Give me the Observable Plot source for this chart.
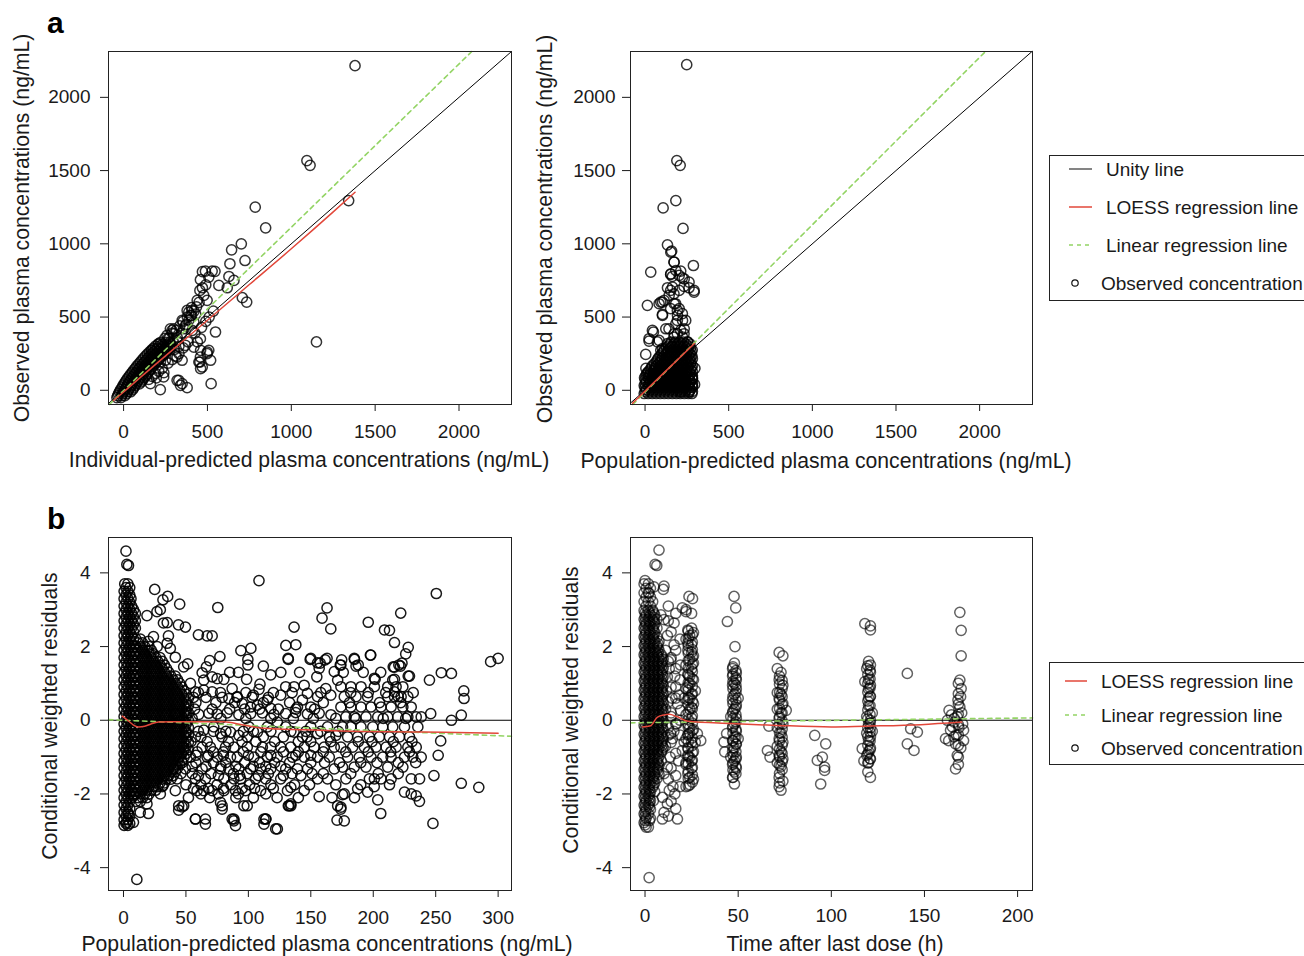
<!DOCTYPE html>
<html><head><meta charset="utf-8">
<script src="https://cdn.jsdelivr.net/npm/d3@7"></script>
<script src="https://cdn.jsdelivr.net/npm/@observablehq/plot@0.6"></script>
<style>
html,body{margin:0;padding:0;background:#fff;overflow:hidden}
#root{position:relative;width:1304px;height:956px;overflow:hidden;background:#fff;font-family:"Liberation Sans",Arial,Helvetica,sans-serif}
.panel{position:absolute}
#overlay{position:absolute;left:0;top:0}
</style></head><body><div id="root"></div>
<script>
// ---------- tick labels ----------
const ticksConc = [0, 500, 1000, 1500, 2000];
const ticksCwres = [-4, -2, 0, 2, 4];
const ticksPredB = [0, 50, 100, 150, 200, 250, 300];
const ticksTime = [0, 50, 100, 150, 200];

// ---------- panel a-left : IPRED (x) vs observed (y), flat x,y pairs ----------
const aLeftObs = [
1380,2216, 1093,1568, 1112,1536, 1342,1295, 785,1250, 847,1109, 1150,330, 702,1000, 644,959, 724,886,
634,864, 628,777, 658,750, 708,632, 734,602, 488,813, 528,814, 508,773, 568,716, 618,700, 455,682,
478,648, 439,614, 498,614, 458,755, 548,398, 522,45, 508,273, 498,250, 455,193, 469,159, 339,34, 379,18,
319,68, 219,5, 409,409, 458,352, 419,295, 458,227, 379,545, 399,511, 349,477, 419,466, 299,386, 319,341,
369,307, 319,227, 349,205, 249,205, 239,91, 470,810, 545,812, 389,534, 408,545, 279,420, 299,420, 239,250,
209,318, 169,273, 440,330, 459,273, 499,261, 519,205, 449,193, 459,148, 239,239, 219,193, 329,68, 349,45,
289,409, 259,375, 369,443,
295,335, 305,280, 320,360, 330,300, 345,390, 360,420, 375,450, 390,480, 405,510, 420,540, 435,570, 450,600,
150,75, 170,95, 190,115, 210,130, 230,150, 160,45, 195,85, 240,120, 265,185, 290,210, 310,235, 330,250,
355,290, 385,330, 425,390, 465,430, 490,470, 510,500, 535,540, 470,700, 490,720, 430,520, 405,565, 380,500,
355,470, 335,440, 315,410, 290,390, 265,355
];
// dense band along the diagonal: [y, x, x, ...]
const aLeftRows = [
[-50,-40,-16],[-23,-30,-6,18],[4,-18,6,30,54],[31,-4,20,44,68],[58,10,34,58,82,106],[85,26,50,74,98,122],
[112,44,68,92,116,140],[139,62,86,110,134,158],[166,80,104,128,152,176],[193,100,124,148,172,196],
[220,120,144,168,192,216],[247,142,166,190,214,238],[274,166,190,214,238,262],[301,190,214,238,262,286],
[328,222,250,276],[355,246,272],
[-36,-35,-11,8],[-10,-24,0,24,42],[17,-10,14,38,60],[44,3,27,51,75,94],[71,18,42,66,90,114],
[98,35,59,83,107,131],[125,53,77,101,125,149],[152,71,95,119,143,167],[179,90,114,138,162,186],
[206,110,134,158,182,206],[233,131,155,179,203,227],[260,154,178,202,226,250],[287,178,202,226,250,274],
[314,206,232,258,282]
];
const aLeftLoess = [-60,-70, 0,-12, 100,88, 250,235, 500,478, 750,722, 1000,966, 1250,1218, 1380,1352];
const aLeftLinear = {slope: 1.115, intercept: -2};

// ---------- panel a-right : PRED (x) vs observed (y) ----------
const aRightObs = [
249,2223, 190,1568, 210,1536, 184,1295, 108,1245, 227,1105, 134,993, 159,950, 173,875, 34,807, 289,852,
153,791, 163,777, 213,814, 223,768, 233,709, 263,700, 293,670, 134,700, 153,682, 173,659, 94,602, 114,614,
14,580, 104,518, 153,557, 183,591, 193,545, 193,477, 213,409, 50,398, 24,336, 4,245, 143,420, 173,364,
134,318, 163,295, 233,386, 243,477, 223,523, 193,386, 74,330, 94,273, 283,216, 283,80, 263,-11, 213,-11,
154,943, 174,875, 184,818, 154,795, 204,784, 234,761, 263,738, 293,682, 164,705, 204,682, 144,648, 104,602,
84,591, 174,591, 204,557, 194,511, 224,477, 234,420, 184,454, 174,386, 224,364, 254,330, 104,511, 44,409,
24,352, 84,341, 104,284, 124,420, 296,40, 298,150, 5,150, 15,120
];
const aRightRows = [
[-22,-5,19,43,67,91,115,139,163,187,211,235,259,280],
[5,7,31,55,79,103,127,151,175,199,223,247,271],
[32,-5,19,43,67,91,115,139,163,187,211,235,259,283],
[59,7,31,55,79,103,127,151,175,199,223,247,271],
[86,-3,19,43,67,91,115,139,163,187,211,235,259,283],
[113,10,31,55,79,103,127,151,175,199,223,247,271],
[140,30,55,79,103,127,151,175,199,223,247,271],
[167,43,67,91,115,139,163,187,211,235,259,283],
[194,67,91,115,139,163,187,211,235,259,275],
[221,80,103,127,151,175,199,223,247,271],
[248,100,127,151,175,199,223,247,268],
[275,115,139,163,187,211,235,259,282],
[302,140,163,187,211,235,260],
[329,155,180,205,230,255],
[-8,1,25,49,73,97,121,145,169,193,217,241,265,283],
[19,1,25,49,73,97,121,145,169,193,217,241,265,283],
[46,1,25,49,73,97,121,145,169,193,217,241,265,283],
[73,1,25,49,73,97,121,145,169,193,217,241,265,283],
[100,5,25,49,73,97,121,145,169,193,217,241,265,283],
[127,20,49,73,97,121,145,169,193,217,241,265,283],
[154,37,61,85,109,133,157,181,205,229,253,277],
[181,55,79,103,127,151,175,199,223,247,271],
[208,73,97,121,145,169,193,217,241,265],
[235,90,115,139,163,187,211,235,259,280],
[262,108,133,157,181,205,229,253,276],
[289,128,151,175,199,223,247,271],
[316,150,172,196,220,244,268]
];
const aRightLoess = [-75,-88, 100,105, 295,320];
const aRightLinear = {slope: 1.143, intercept: -13};

// ---------- panel b-left : PRED (x) vs CWRES (y) ----------
const bLeftRows = [
// column right at zero
[3.7,1,3.5],[3.6,2,5],[3.5,0.5,3.5],[3.4,2,5],[3.3,0.5,3.5,6],[3.2,2,5],[3.1,0.5,3.5,6.5],[3.0,2,5,8],
[2.9,0.5,3.5,6.5,9.5],[2.8,2,5,8],[2.7,0.5,3.5,6.5,9.5],[2.6,2,5,8],[2.5,0.5,3.5,6.5,9.5],[2.4,2,5,8],
[2.3,0.5,3.5,6.5],[2.2,2,5,8],[2.1,0.5,3.5,6.5],[2.0,2,5,8],[1.9,0.5,3.5,6.5],[1.8,2,5,8],[1.7,0.5,3.5,6.5],
[1.6,2,5,8],[1.5,0.5,3.5,6.5],[1.4,2,5,8],[1.3,0.5,3.5,6.5],[1.2,2,5,8],[1.1,0.5,3.5,6.5],[1.0,2,5,8],
[0.9,0.5,3.5,6.5],[0.8,2,5,8],[0.7,0.5,3.5,6.5],[0.6,2,5,8],[0.5,0.5,3.5,6.5],[0.4,2,5,8],[0.3,0.5,3.5,6.5],
[0.2,2,5,8],[0.1,0.5,3.5,6.5],[0.0,2,5,8],[-0.1,0.5,3.5,6.5],[-0.2,2,5,8],[-0.3,0.5,3.5,6.5],[-0.4,2,5,8],
[-0.5,0.5,3.5,6.5],[-0.6,2,5,8],[-0.7,0.5,3.5,6.5],[-0.8,2,5,8],[-0.9,0.5,3.5,6.5],[-1.0,2,5,8],
[-1.1,0.5,3.5,6.5],[-1.2,2,5,8],[-1.3,0.5,3.5,6.5],[-1.4,2,5,8],[-1.5,0.5,3.5,6.5],[-1.6,2,5,8],
[-1.7,0.5,3.5,6.5],[-1.8,2,5,8],[-1.9,0.5,3.5,6.5],[-2.0,2,5,8],[-2.1,0.5,3.5,6.5],[-2.2,2,5],[-2.3,0.5,3.5],
[-2.4,2,5],[-2.5,0.5,3.5],[-2.6,2,5],[-2.7,0.5,3.5],[-2.8,2,5],[-2.85,0.5,3.5],
// dense block 10-54
[2.2,10,13.5],[2.1,11.75,15.25],[2.0,10,13.5,17,20.5],[1.9,11.75,15.25,18.75,22.25],[1.8,10,13.5,17,20.5,24],
[1.7,11.75,15.25,18.75,22.25,25.75,29.25],[1.6,10,13.5,17,20.5,24,27.5,31],
[1.5,11.75,15.25,18.75,22.25,25.75,29.25,32.75],[1.4,10,13.5,17,20.5,24,27.5,31,34.5],
[1.3,11.75,15.25,18.75,22.25,25.75,29.25,32.75,36.25],[1.2,10,13.5,17,20.5,24,27.5,31,34.5,38,41.5],
[1.1,11.75,15.25,18.75,22.25,25.75,29.25,32.75,36.25,39.75,43.25],[1.0,10,13.5,17,20.5,24,27.5,31,34.5,38,41.5,45],
[0.9,11.75,15.25,18.75,22.25,25.75,29.25,32.75,36.25,39.75,43.25,46.75],
[0.8,10,13.5,17,20.5,24,27.5,31,34.5,38,41.5,45,48.5],
[0.7,11.75,15.25,18.75,22.25,25.75,29.25,32.75,36.25,39.75,43.25,46.75,50.25],
[0.6,10,13.5,17,20.5,24,27.5,31,34.5,38,41.5,45,48.5,52],
[0.5,11.75,15.25,18.75,22.25,25.75,29.25,32.75,36.25,39.75,43.25,46.75,50.25],
[0.4,10,13.5,17,20.5,24,27.5,31,34.5,38,41.5,45,48.5,52],
[0.3,11.75,15.25,18.75,22.25,25.75,29.25,32.75,36.25,39.75,43.25,46.75,50.25],
[0.2,10,13.5,17,20.5,24,27.5,31,34.5,38,41.5,45,48.5,52],
[0.1,11.75,15.25,18.75,22.25,25.75,29.25,32.75,36.25,39.75,43.25,46.75,50.25],
[0.0,10,13.5,17,20.5,24,27.5,31,34.5,38,41.5,45,48.5,52],
[-0.1,11.75,15.25,18.75,22.25,25.75,29.25,32.75,36.25,39.75,43.25,46.75,50.25],
[-0.2,10,13.5,17,20.5,24,27.5,31,34.5,38,41.5,45,48.5,52],
[-0.3,11.75,15.25,18.75,22.25,25.75,29.25,32.75,36.25,39.75,43.25,46.75,50.25],
[-0.4,10,13.5,17,20.5,24,27.5,31,34.5,38,41.5,45,48.5,52],
[-0.5,11.75,15.25,18.75,22.25,25.75,29.25,32.75,36.25,39.75,43.25,46.75,50.25],
[-0.6,10,13.5,17,20.5,24,27.5,31,34.5,38,41.5,45,48.5,52],
[-0.7,11.75,15.25,18.75,22.25,25.75,29.25,32.75,36.25,39.75,43.25,46.75,50.25],
[-0.8,10,13.5,17,20.5,24,27.5,31,34.5,38,41.5,45,48.5,52],
[-0.9,11.75,15.25,18.75,22.25,25.75,29.25,32.75,36.25,39.75,43.25,46.75,50.25],
[-1.0,10,13.5,17,20.5,24,27.5,31,34.5,38,41.5,45,48.5],
[-1.1,11.75,15.25,18.75,22.25,25.75,29.25,32.75,36.25,39.75,43.25,46.75],
[-1.2,10,13.5,17,20.5,24,27.5,31,34.5,38,41.5,45],
[-1.3,11.75,15.25,18.75,22.25,25.75,29.25,32.75,36.25,39.75,43.25],
[-1.4,10,13.5,17,20.5,24,27.5,31,34.5,38,41.5],
[-1.5,11.75,15.25,18.75,22.25,25.75,29.25,32.75,36.25,39.75],
[-1.6,10,13.5,17,20.5,24,27.5,31,34.5,38],
[-1.7,11.75,15.25,18.75,22.25,25.75,29.25,32.75],
[-1.8,10,13.5,17,20.5,24,27.5,31],[-1.9,11.75,15.25,18.75,22.25,25.75],[-2.0,10,13.5,17,20.5],
[-2.1,11.75,15.25,18.75],[-2.2,10,13.5],
// middle cloud
[-0.73,40.2,48.2,63,69.6,81.7,88.4,99.1,111.2,117.9,125.9,133.9,144.7,152.7,160.7,168.8],
[-1.0,44.2,53.6,67,75,85.7,91.1,104.5,115.2,123.2,135.3,144.7,155.4,164.8],
[-1.32,40.2,49.6,63,77.7,84.4,92.4,101.8,109.8,117.9,129.9,139.3,147.3,168.8],
[-1.59,42.9,57.6,65.6,80.4,88.4,93.8,105.8,113.9,125.9,155.4,163.4],
[-1.91,41.5,58.9,64.3,71,80.4,89.7,97.8,109.8,131.3,144.7],
[-2.32,44.2,48.2,79,96.4,99.1,132.6,134,171.5],
[-2.68,57.6,65.6,87,88.4,112.5,113.9],
[0.48,58,74,89,112,133,160,181,205,222],
[0.05,55,78,98,118,136,152,170,186,208,226],
[-0.58,54,67,84,95,106,121,140,150,166,188,199,216,231],
[-0.86,59,72,80,96,110,128,140,160,178,196,214,229],
[-1.15,47,58,72,82,97,109,121,133,150,161,173,190,203,220,234],
[-1.45,46,55,70,88,99,116,135,151,160,182,204,220],
[-1.75,50,62,75,86,101,118,137,149,170,190,213],
[-2.1,52,69,90,104,123,140,167,185],
[1.3,85,92,126,141,176,192,206],
[0.75,60,98,120,135,158,182,196,210,232],
[0.62,56,66,79,91,103,116],
[0.3,57,71,85,97,109,124,138,153],
[-0.3,60,72,82,96,104,118,134,146,158,172],
[-0.45,62,79,99,112,128,147,165],
[-1.5,60,76,93,108,128,142],
[-1.25,55,66,78,90,104,114,126],
[-0.95,58,68,80,100,118,138,150],
[-1.85,56,68,80,95,105,120],
[-2.0,62,76,92,114],
[0.91,174.1,182.1,190.2,200.9,211.6,218.3,223.7],
[0.64,176.8,186.2,195.5,211.6,217,222.3,227.7],
[0.36,174.1,182.1,190.2,198.2,206.2,214.3,223.7,230.4],
[0.09,178.1,184.8,194.2,203.6,211.6,219.6,227.7,234.4,238.4],
[-0.18,175.4,182.1,190.2,199.6,207.6,215.6,225,235.7],
[-0.45,179.5,187.5,196.9,204.9,213,221,229],
[-0.73,174.1,183.5,192.9,202.2,210.3,218.3,227.7,234.4],
[-1.0,179.5,188.8,198.2,207.6,214.3,225,231.7,238.4],
[-1.27,175.4,184.8,194.2,211.6,223.7],
[-1.59,178.1,196.9,200.9,206.2,214.3,230.4,237.1]
];
const bLeftObs = [
2,4.59, 2.7,4.23, 4,4.2, 108.5,3.79, 25,3.55, 250.5,3.44, 35.4,3.36, 31.6,3.27, 45,3.15, 75.5,3.06, 163,3.05,
159,2.77, 222,2.91, 166,2.48, 136.6,2.53, 196,2.66, 29.5,3.0, 26.8,2.95, 18.8,2.84, 32,2.64, 35,2.65, 44,2.59,
49.6,2.53, 60,2.32, 67,2.29, 71,2.29, 209,2.45, 213,2.44, 217,2.11, 228,1.98, 226,1.8, 130,2.03, 138,2.05,
36,2.29, 35,2.09, 24,2.27, 27,2.0, 20,2.14, 94,1.89, 102,1.95, 99.6,1.65, 99.6,1.5, 132,1.65, 149.5,1.65,
161.5,1.64, 157.5,1.55, 173.6,1.5, 174.7,1.64, 185,1.65, 188,1.5, 198,1.77, 216,1.45, 220.5,1.5, 223,1.55,
294,1.59, 300,1.68, 254.5,1.29, 262.6,1.27, 245,1.09, 228,1.2, 201.5,1.11, 215.6,1.09, 217,0.77, 220,0.64,
272.5,0.8, 272.7,0.59, 246,0.18, 270.5,0.14, 262.6,0, 254,-0.56, 252,-0.95, 248.6,-1.5, 270.5,-1.71,
284.5,-1.82, 247.8,-2.8, 206,-2.53, 203.6,-2.16, 195.5,-1.95, 200.8,-1.8, 171,-2.71, 174,-2.41, 175.4,-2.02,
156.7,-2.07, 134,-2.27, 132,-2.32, 134,-1.82, 121.9,-2.95, 112.5,-2.82, 114,-2.68, 89.7,-2.86, 88.4,-2.73,
79,-2.41, 77.7,-2.23, 65.6,-2.82, 57.6,-2.68, 46.9,-2.35, 44.2,-2.44, 10.7,-4.32, 2.7,-2.77, 8,-2.77, 4,-2.55,
13.4,-2.5, 20,-2.53, 18.8,-2.27, 29.5,-2.0, 31.6,-1.77, 8,-2.05, 6.7,-1.91,
131.8,1.68, 150,1.68, 155.4,1.56, 163,1.68, 156.7,1.41, 154.8,1.18, 77.2,1.73, 69,1.62, 66.4,1.45, 51.4,1.53,
48.2,1.45, 41.5,1.71, 37.5,1.95, 112,1.47, 117.9,1.23, 98.6,1.11, 109.3,0.98, 108.5,0.84, 104,0.68, 63,1.29,
64.3,1.09, 71,1.18, 75,1.13, 80.4,1.11, 87,0.86, 53.6,1.0, 57.6,0.77, 64.3,0.82, 71,0.77, 77.7,0.75, 84.4,0.59,
91.1,0.64, 95.1,0.45, 101.8,0.36, 107.2,0.41, 115.2,0.55, 117.9,0.32, 125.9,0.68, 129.9,0.91, 136.6,0.91,
144.7,0.95, 147.3,0.73, 143.3,0.55, 139.3,0.36, 150,0.36, 155.4,0.64, 162,0.86, 166,0.68, 171.5,1.09, 168.8,1.32,
41.5,0.18, 50.9,0.2, 60.3,0.16, 68.3,0.19, 75,0.17, 83,0.2, 92.4,0.15, 101.8,0.18, 111.2,0.2, 120.5,0.16,
129.9,0.18, 137.9,0.21, 147.3,0.17, 156.7,0.19, 166.1,0.15,
42.9,-0.18, 49.6,-0.32, 57.6,-0.45, 64.3,-0.27, 72.3,-0.18, 77.7,-0.36, 85.7,-0.32, 92.4,-0.41, 100.5,-0.18,
107.2,-0.32, 115.2,-0.18, 123.2,-0.05, 129.9,-0.18, 136.6,-0.32, 143.3,-0.45, 150,-0.18, 155.4,-0.36,
163.4,-0.18, 170.1,-0.41, 123.2,-2.95,
197.7,1.77, 184.8,1.68, 186.2,1.47, 174.1,1.5, 217,1.44, 221.8,1.47, 229,1.2, 217,1.11, 200.9,1.14,
237,-2.2, 234.4,-2.05, 230.4,-2.0, 225,-1.95, 187.5,-1.86, 176.8,-2.0, 174.1,-2.36, 176.8,-2.73
];
const bLeftLoess = [-1,0.11, 4,-0.02, 8,-0.13, 12,-0.18, 17,-0.16, 22,-0.1, 28,-0.05, 40,-0.04, 80,-0.04,
  96,-0.13, 112,-0.22, 145,-0.26, 174,-0.29, 240,-0.32, 300,-0.35];
const bLeftLinear = {slope: -0.0014, intercept: 0.0};

// ---------- panel b-right : time after last dose (x) vs CWRES (y) ----------
const bRightRows = [
[3.7,-0.5,1.8],[3.58,0.6,2.9],[3.46,-0.5,1.8],[3.34,0.6,2.9],[3.22,-0.5,1.8,4.1],[3.1,0.6,2.9],
[2.98,-0.5,1.8,4.1],[2.86,0.6,2.9,5.2],[2.74,-0.5,1.8,4.1,6.4],[2.62,0.6,2.9,5.2],[2.5,-0.5,1.8,4.1,6.4],
[2.38,0.6,2.9,5.2],[2.26,-0.5,1.8,4.1,6.4],[2.14,0.6,2.9,5.2,7.5],[2.02,-0.5,1.8,4.1,6.4],[1.9,0.6,2.9,5.2,7.5],
[1.78,-0.5,1.8,4.1,6.4,8.7],[1.66,0.6,2.9,5.2,7.5,9.8],[1.54,-0.5,1.8,4.1,6.4,8.7],[1.42,0.6,2.9,5.2,7.5,9.8],
[1.3,-0.5,1.8,4.1,6.4,8.7],[1.18,0.6,2.9,5.2,7.5,9.8],[1.06,-0.5,1.8,4.1,6.4,8.7],[0.94,0.6,2.9,5.2,7.5,9.8],
[0.82,-0.5,1.8,4.1,6.4,8.7],[0.7,0.6,2.9,5.2,7.5,9.8],[0.58,-0.5,1.8,4.1,6.4,8.7],[0.46,0.6,2.9,5.2,7.5,9.8],
[0.34,-0.5,1.8,4.1,6.4,8.7],[0.22,0.6,2.9,5.2,7.5,9.8],[0.1,-0.5,1.8,4.1,6.4,8.7],[-0.02,0.6,2.9,5.2,7.5,9.8],
[-0.14,-0.5,1.8,4.1,6.4,8.7],[-0.26,0.6,2.9,5.2,7.5,9.8],[-0.38,-0.5,1.8,4.1,6.4,8.7],[-0.5,0.6,2.9,5.2,7.5,9.8],
[-0.62,-0.5,1.8,4.1,6.4,8.7],[-0.74,0.6,2.9,5.2,7.5,9.8],[-0.86,-0.5,1.8,4.1,6.4,8.7],[-0.98,0.6,2.9,5.2,7.5],
[-1.1,-0.5,1.8,4.1,6.4,8.7],[-1.22,0.6,2.9,5.2,7.5],[-1.34,-0.5,1.8,4.1,6.4],[-1.46,0.6,2.9,5.2,7.5],
[-1.58,-0.5,1.8,4.1,6.4],[-1.7,0.6,2.9,5.2],[-1.82,-0.5,1.8,4.1],[-1.94,0.6,2.9,5.2],[-2.06,-0.5,1.8],
[-2.18,0.6,2.9,4.5],[-2.3,-0.5,1.8],[-2.42,0.6,2.9],[-2.54,-0.5,1.8],[-2.66,0.6,2.9],[-2.78,-0.5],[-2.9,0.6,1.8],
[2.92,0.05,2.35,4.65],[2.8,0.05,2.35,4.65],[2.68,0.05,2.35,4.65],[2.56,0.05,2.35,4.65],[2.44,0.05,2.35,4.65],
[2.32,0.05,2.35,4.65],[2.2,0.05,2.35,4.65],[2.08,0.05,2.35,4.65,6.95],[1.96,0.05,2.35,4.65,6.95],
[1.84,0.05,2.35,4.65,6.95],[1.72,0.05,2.35,4.65,6.95,9.25],[1.6,0.05,2.35,4.65,6.95,9.25],
[1.48,0.05,2.35,4.65,6.95,9.25],[1.36,0.05,2.35,4.65,6.95,9.25],[1.24,0.05,2.35,4.65,6.95,9.25],
[1.12,0.05,2.35,4.65,6.95,9.25],[1.0,0.05,2.35,4.65,6.95,9.25],[0.88,0.05,2.35,4.65,6.95,9.25],
[0.76,0.05,2.35,4.65,6.95,9.25],[0.64,0.05,2.35,4.65,6.95,9.25],[0.52,0.05,2.35,4.65,6.95,9.25],
[0.4,0.05,2.35,4.65,6.95,9.25],[0.28,0.05,2.35,4.65,6.95,9.25],[0.16,0.05,2.35,4.65,6.95,9.25],
[0.04,0.05,2.35,4.65,6.95,9.25],[-0.08,0.05,2.35,4.65,6.95,9.25],[-0.2,0.05,2.35,4.65,6.95,9.25],
[-0.32,0.05,2.35,4.65,6.95,9.25],[-0.44,0.05,2.35,4.65,6.95,9.25],[-0.56,0.05,2.35,4.65,6.95,9.25],
[-0.68,0.05,2.35,4.65,6.95,9.25],[-0.8,0.05,2.35,4.65,6.95,9.25],[-0.92,0.05,2.35,4.65,6.95],
[-1.04,0.05,2.35,4.65,6.95],[-1.16,0.05,2.35,4.65,6.95],[-1.28,0.05,2.35,4.65,6.95],[-1.4,0.05,2.35,4.65,6.95],
[-1.52,0.05,2.35,4.65],[-1.64,0.05,2.35,4.65],[-1.76,0.05,2.35,4.65],[-1.88,0.05,2.35],[-2.0,0.05,2.35],
[-2.12,0.05,2.35],[-2.24,0.05,2.35],[-2.36,0.05,2.35],[-2.48,0.05],[-2.6,0.05],[-2.72,0.05,2.35],[-2.84,0.05]
];
// sampling-time columns: [x, y, y, ...]
const bRightCols = [
[23.2,2.42,2.22,2.02,1.82,1.62,1.42,1.22,1.02,0.82,0.62,0.42,0.22,0.02,-0.18,-0.38,-0.58,-0.78,-0.98,-1.18,-1.38,-1.58,-1.78],
[25.4,2.32,2.12,1.92,1.72,1.52,1.32,1.12,0.92,0.72,0.52,0.32,0.12,-0.08,-0.28,-0.48,-0.68,-0.88,-1.08,-1.28,-1.48,-1.68],
[47.2,1.45,1.25,1.05,0.85,0.65,0.45,0.25,0.05,-0.15,-0.35,-0.55,-0.75,-0.95,-1.15,-1.35,-1.55],
[48.8,1.35,1.15,0.95,0.75,0.55,0.35,0.15,-0.05,-0.25,-0.45,-0.65,-0.85,-1.05,-1.25,-1.45],
[72.2,1.2,0.98,0.76,0.54,0.32,0.1,-0.12,-0.34,-0.56,-0.78,-1.0,-1.22,-1.44,-1.7],
[73.6,1.08,0.86,0.64,0.42,0.2,-0.02,-0.24,-0.46,-0.68,-0.9,-1.12,-1.34],
[119.6,1.48,1.24,1.0,0.76,0.52,0.28,0.04,-0.2,-0.44,-0.68,-0.92,-1.16,-1.4],
[120.8,1.36,1.12,0.88,0.64,0.4,0.16,-0.08,-0.32,-0.56,-0.8,-1.04],
[168.2,1.0,0.72,0.44,0.16,-0.12,-0.4,-0.68,-1.0,-1.2],
[14,2.4,1.7,0.9,0.2,-0.6,-1.3,-2.2],
[16.5,2.9,1.9,1.4,0.6,-0.1,-0.9,-1.5,-2.4],
[18.8,2.2,1.1,0.0,-0.4,-1.8],
[12.5,3.1,2.7,1.6,0.5,-0.4,-1.6,-2.6]
];
const bRightObs = [
// around 24 h
22,3.0, 25,2.9, 23,2.45, 26,2.38, 24,2.3, 22,2.2, 25,2.05, 23,1.9, 26,1.75, 24,1.65, 22,1.5, 25,1.4, 23,1.25,
26,1.1, 24,1.0, 22,0.85, 25,0.7, 23,0.55, 26,0.45, 24,0.3, 22,0.15, 25,0.05, 23,-0.1, 26,-0.25, 24,-0.35,
22,-0.5, 25,-0.6, 23,-0.75, 26,-0.85, 24,-1.0, 22,-1.2, 25,-1.3, 23,-1.45, 26,-1.6, 24,-1.75, 22,-1.8, 24,1.2,
23,0.9, 25,0.35, 24,-0.2, 23,-0.95, 24,-1.55, 25,1.85, 25,2.5, 22,-1.15, 27,-0.6, 27,0.8, 21,0.6,
20,3.05, 22,2.95, 23.6,3.36, 25.5,3.3, 23,-0.4, 25,-1.1, 24,0.6, 26,1.55, 23,2.1,
// around 48 h
48,1.55, 47,1.4, 49,1.28, 47,1.2, 49,1.1, 48,1.0, 47,0.95, 49,0.85, 48,0.7, 47,0.55, 49,0.42, 48,0.3, 47,0.2,
49,0.05, 48,-0.1, 47,-0.2, 49,-0.3, 48,-0.45, 47,-0.55, 49,-0.65, 48,-0.75, 47,-0.85, 49,-1.0, 48,-1.1, 47,-1.2,
49,-1.3, 48,-1.4, 47,-1.55, 48,-1.73, 47.8,3.36, 48.7,3.05, 44.2,2.68, 48.3,2.0, 42.8,-0.86, 42.4,-0.59,
43.8,-0.36, 50,0.6, 50,-0.5, 46,0.1, 46,-1.0,
// around 72 h
72,1.84, 74,1.75, 71,1.4, 73,1.3, 72,1.1, 74,0.95, 71,0.75, 73,0.7, 72,0.6, 74,0.45, 71,0.3, 73,0.2, 72,0.05,
74,-0.1, 71,-0.2, 73,-0.35, 72,-0.5, 74,-0.6, 71,-0.7, 73,-0.85, 72,-0.95, 74,-1.05, 71,-1.15, 73,-1.25,
72,-1.55, 74,-1.65, 72,-1.8, 73,-1.9, 66.5,-0.16, 65.7,-0.82, 67.1,-1.0, 75.8,0.27,
// around 96 h
91.1,-0.41, 92.5,-1.09, 94.3,-1.73, 95.2,-1.0, 96.4,-1.27, 96.4,-1.36, 97,-0.64,
// around 120 h
118,2.62, 121,2.56, 121,2.45, 120,1.6, 121,1.5, 119,1.4, 121,1.3, 120,1.1, 118,1.05, 121,0.95, 120,0.85,
121,0.65, 120,0.6, 120,0.4, 119,0.1, 121,0.0, 120,-0.1, 121,-0.2, 119,-0.35, 121,-0.45, 120,-0.55, 121,-0.75,
120,-0.85, 119,-0.95, 121,-1.05, 120,-1.15, 121,-1.55, 116.6,-0.77, 117.5,-1.1, 122,0.2, 122,-0.3,
// around 144 h
140.8,1.27, 142.6,-0.23, 146.2,-0.32, 140.8,-0.64, 144.4,-0.82,
// around 168 h
169,2.93, 169.7,2.44, 169.7,1.75, 169,1.09, 169.7,0.86, 169.4,0.64, 163.2,0.27, 162.3,0, 161.3,-0.5, 165.8,-0.45,
166.7,-0.64, 167.6,-0.95, 166.7,-1.32, 164,-0.27, 165,-0.18, 167.6,0.09, 169,0.36, 171,-0.27, 171,-0.55,
168,0.55, 170,0.2, 166,-0.05, 168.5,-0.2, 164.5,0.15, 170.5,-0.1, 167,-0.4, 163,-0.55, 169.5,-0.75, 166,0.05,
// early times, scattered
15.6,2.05, 16.5,0.91, 18.2,0.68, 17.4,0.45, 19.1,0.27, 21,-0.59, 20,-0.82, 17.4,-2.68, 9.3,-2.68, 10.2,-2.5,
12,-2.27, 9.3,-2.09, 14.7,-0.5, 13.8,-0.36, 12,-1.27, 10.2,-1.45, 13.8,1.64, 12,1.18, 10.2,2.73, 8.5,2.86,
29.9,-0.55, 28.1,-0.36, 15.6,2.64, 16,1.2, 18,-1.1, 15,-1.8, 19,1.5, 17,-0.1, 7.5,4.62, 5.4,4.23, 6.3,4.2,
0,3.79, 10.2,3.64, 9.8,3.55, 4.8,3.62, 2.1,3.45, 2.2,-4.27, 16,-2.0,
11,0.3, 12.5,-0.2, 11.5,0.8, 13,1.4, 11,-0.7, 13.5,-1.0, 12,2.3, 11,1.9, 14,0.1, 15.5,-0.3, 13,-1.9, 14.5,0.6
];
const bRightLoess = [-1.5,-0.18, 3,-0.15, 6.5,0.08, 10,0.14, 13,0.16, 17,0.1, 23,-0.03, 46,-0.09, 71,-0.14,
  100,-0.18, 118,-0.16, 148,-0.12, 170,-0.05];
const bRightLinear = {slope: 0.00062, intercept: -0.065};

// ---------- legend texts ----------
const legendA = ["Unity line", "LOESS regression line", "Linear regression line", "Observed concentration"];
const legendB = ["LOESS regression line", "Linear regression line", "Observed concentration"];

// ---------- helpers ----------
const pairs = a => { const o = []; for (let i = 0; i < a.length; i += 2) o.push({x: a[i], y: a[i + 1]}); return o; };
const fromRows = rows => rows.flatMap(([y, ...xs]) => xs.map(x => ({x, y})));
const fromCols = cols => cols.flatMap(([x, ...ys]) => ys.map(y => ({x, y})));
function fitLine(fit, xd, yd) {
  const yAt = x => fit.slope * x + fit.intercept;
  const xAt = y => (y - fit.intercept) / fit.slope;
  const pts = [];
  for (const x of xd) { const y = yAt(x); if (y >= yd[0] && y <= yd[1]) pts.push({x, y}); }
  if (fit.slope !== 0) for (const y of yd) { const x = xAt(y); if (x >= xd[0] && x <= xd[1]) pts.push({x, y}); }
  pts.sort((a, b) => a.x - b.x);
  return [pts[0], pts[pts.length - 1]];
}

const RED = "#e2473a", GREEN = "#93d464", FONT = "'Liberation Sans', Arial, Helvetica, sans-serif";
const root = document.getElementById("root");

function panel(o) {
  const marks = [
    Plot.dot(o.points, {x: "x", y: "y", r: 5.1, stroke: "#000", strokeOpacity: o.opacity, strokeWidth: 1.5})
  ];
  if (o.unity) {
    const lo = Math.max(o.xd[0], o.yd[0]), hi = Math.min(o.xd[1], o.yd[1]);
    marks.push(Plot.line([{x: lo, y: lo}, {x: hi, y: hi}], {x: "x", y: "y", stroke: "#000", strokeWidth: 1}));
  } else {
    marks.push(Plot.ruleY([0], {stroke: "#000", strokeWidth: 1}));
  }
  marks.push(Plot.line(fitLine(o.linear, o.xd, o.yd), {x: "x", y: "y", stroke: GREEN, strokeWidth: 1.6, strokeDasharray: "4.5,4"}));
  marks.push(Plot.line(o.loess, {x: "x", y: "y", stroke: RED, strokeWidth: 1.5, curve: "monotone-x"}));
  marks.push(Plot.frame({stroke: "#222", strokeWidth: 1}));
  const svg = Plot.plot({
    width: o.width, height: o.height,
    marginLeft: o.ml, marginTop: o.mt, marginRight: o.mr, marginBottom: o.mb,
    style: {fontFamily: FONT, fontSize: "19px", color: "#1a1a1a", background: "transparent", overflow: "visible"},
    x: {domain: o.xd, ticks: o.xt, tickSize: 7, tickPadding: o.xpad, tickFormat: d => String(d), label: null},
    y: {domain: o.yd, ticks: o.yt, tickSize: 8, tickPadding: o.ypad, tickFormat: d => String(d), label: null},
    marks
  });
  svg.classList.add("panel");
  svg.style.left = o.left + "px";
  svg.style.top = o.top + "px";
  root.appendChild(svg);
}

panel({left: 0, top: 40, width: 520, height: 440, ml: 108, mt: 11, mr: 9, mb: 76,
  xd: [-90, 2313], yd: [-97, 2313], xt: ticksConc, yt: ticksConc, xpad: 13, ypad: 10,
  points: fromRows(aLeftRows).concat(pairs(aLeftObs)), opacity: 0.8, unity: true, loess: pairs(aLeftLoess), linear: aLeftLinear});
panel({left: 520, top: 40, width: 520, height: 440, ml: 110, mt: 11, mr: 8, mb: 76,
  xd: [-87, 2316], yd: [-97, 2313], xt: ticksConc, yt: ticksConc, xpad: 13, ypad: 7,
  points: fromRows(aRightRows).concat(pairs(aRightObs)), opacity: 0.8, unity: true, loess: pairs(aRightLoess), linear: aRightLinear});
panel({left: 0, top: 500, width: 520, height: 440, ml: 108, mt: 37, mr: 9, mb: 50,
  xd: [-12, 310.7], yd: [-4.62, 4.96], xt: ticksPredB, yt: ticksCwres, xpad: 13, ypad: 10,
  points: fromRows(bLeftRows).concat(pairs(bLeftObs)), opacity: 0.9, unity: false, loess: pairs(bLeftLoess), linear: bLeftLinear});
panel({left: 520, top: 500, width: 520, height: 440, ml: 110, mt: 37, mr: 8, mb: 50,
  xd: [-7.8, 208], yd: [-4.62, 4.96], xt: ticksTime, yt: ticksCwres, xpad: 11, ypad: 10,
  points: fromRows(bRightRows).concat(fromCols(bRightCols), pairs(bRightObs)), opacity: 0.62, unity: false, loess: pairs(bRightLoess), linear: bRightLinear});

// ---------- overlay: panel letters, axis titles, legends ----------
const ov = d3.select(root).append("svg").attr("id", "overlay").attr("width", 1304).attr("height", 956)
  .style("font-family", FONT).style("pointer-events", "none");
ov.append("text").attr("x", 47).attr("y", 33).attr("font-size", 30).attr("font-weight", "bold").text("a");
ov.append("text").attr("x", 47).attr("y", 529).attr("font-size", 30).attr("font-weight", "bold").text("b");

const titles = [
  {t: "Individual-predicted plasma concentrations (ng/mL)", x: 309, y: 467, r: 0},
  {t: "Population-predicted plasma concentrations (ng/mL)", x: 826, y: 468, r: 0},
  {t: "Population-predicted plasma concentrations (ng/mL)", x: 327, y: 951, r: 0},
  {t: "Time after last dose (h)", x: 835, y: 951, r: 0},
  {t: "Observed plasma concentrations (ng/mL)", x: 29, y: 228, r: -90},
  {t: "Observed plasma concentrations (ng/mL)", x: 552, y: 229, r: -90},
  {t: "Conditional weighted residuals", x: 57, y: 716, r: -90},
  {t: "Conditional weighted residuals", x: 578, y: 710, r: -90}
];
for (const d of titles) {
  ov.append("text").attr("text-anchor", "middle").attr("font-size", 21.2).attr("fill", "#1a1a1a")
    .attr("transform", `translate(${d.x},${d.y}) rotate(${d.r})`).text(d.t);
}

function legend(x, y, h, rows, items, lineX0, lineX1, textX, circX, textXobs) {
  const g = ov.append("g");
  g.append("rect").attr("x", x + 0.5).attr("y", y + 0.5).attr("width", 300).attr("height", h)
    .attr("fill", "#fff").attr("stroke", "#222").attr("stroke-width", 1);
  items.forEach((label, i) => {
    const cy = rows[i];
    if (label === "Unity line") g.append("line").attr("x1", lineX0).attr("x2", lineX1).attr("y1", cy).attr("y2", cy).attr("stroke", "#333").attr("stroke-width", 1.2);
    if (label.startsWith("LOESS")) g.append("line").attr("x1", lineX0).attr("x2", lineX1).attr("y1", cy).attr("y2", cy).attr("stroke", RED).attr("stroke-width", 1.5);
    if (label.startsWith("Linear")) g.append("line").attr("x1", lineX0).attr("x2", lineX1).attr("y1", cy).attr("y2", cy).attr("stroke", GREEN).attr("stroke-width", 1.5).attr("stroke-dasharray", "4,4");
    const isObs = label.startsWith("Observed");
    if (isObs) g.append("circle").attr("cx", circX).attr("cy", cy).attr("r", 3.2).attr("fill", "none").attr("stroke", "#111").attr("stroke-width", 1.2);
    g.append("text").attr("x", isObs ? textXobs : textX).attr("y", cy + 6.5).attr("font-size", 19).attr("fill", "#1a1a1a").text(label);
  });
}
legend(1049, 155, 145, [169, 207, 245, 283], legendA, 1069, 1092, 1106, 1075, 1101);
legend(1049, 662, 102, [681, 715, 748], legendB, 1065, 1087, 1101, 1075, 1101);
</script></body></html>
